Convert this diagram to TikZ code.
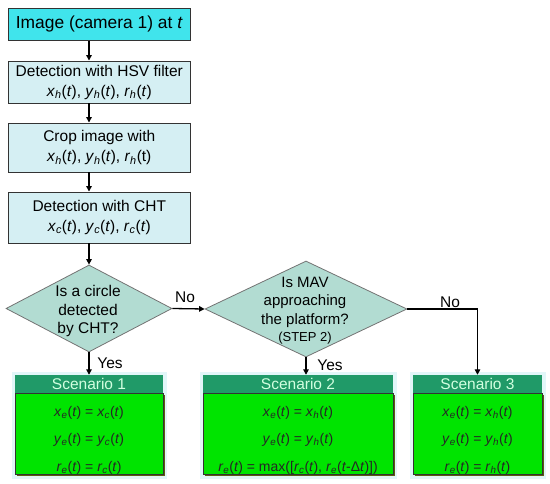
\documentclass[tikz,border=0pt]{standalone}
\usepackage{fontspec}
\setmainfont{Liberation Sans}
\usetikzlibrary{shapes.geometric,arrows.meta,shadows,backgrounds}
\definecolor{cyanA}{HTML}{40E4EC}
\definecolor{cyanB}{HTML}{D5EFF3}
\definecolor{diaC}{HTML}{B2DCD2}
\definecolor{hdrC}{HTML}{209A68}
\definecolor{hdrT}{HTML}{D2FFE0}
\definecolor{bodyC}{HTML}{00E400}
\definecolor{shadC}{HTML}{5E5A10}
\definecolor{haloC}{HTML}{E2F6F8}
\newcommand\myv[2]{\textit{#1}\textsubscript{\textit{#2}}}
\begin{document}
\begin{tikzpicture}[x=1pt,y=-1pt,
 box/.style={draw=black!80, line width=0.9pt, fill=cyanB, minimum width=182pt, inner sep=0pt, align=center, font=\fontsize{15.5}{20}\selectfont},
 dia/.style={diamond, draw=black!55, line width=0.8pt, fill=diaC, inner sep=0pt},
 dtext/.style={align=center, font=\fontsize{15.5}{18.5}\selectfont, inner sep=0pt},
 hdr/.style={fill=hdrC, text=hdrT, inner sep=0pt, font=\fontsize{15.5}{18}\selectfont, minimum height=18pt},
 body/.style={draw=black!80, line width=0.9pt, fill=bodyC, inner sep=0pt, minimum height=81pt, drop shadow={shadow xshift=1.5pt, shadow yshift=-1.5pt, fill=shadC, opacity=1}},
 btext/.style={align=center, font=\fontsize{14}{27.5}\selectfont, inner sep=0pt, text=black!85},
 arr/.style={draw=black, line width=1.3pt, -{Triangle[length=5.5pt,width=5.5pt]}},
 lbl/.style={font=\fontsize{15.5}{18}\selectfont, inner sep=0pt},
]
\useasboundingbox (0,0) rectangle (550,484);

\node[box, fill=cyanA, minimum height=32pt, font=\fontsize{17.4}{20}\selectfont] (b1) at (99.3,24.5) {Image (camera 1) at \textit{t}};
\node[box, minimum height=42pt] (b2) at (99.3,82) {Detection with HSV filter\\ \myv{x}{h}(\textit{t}), \myv{y}{h}(\textit{t}), \myv{r}{h}(\textit{t})};
\node[box, minimum height=49pt] (b3) at (99.3,147.5) {Crop image with\\ \myv{x}{h}(\textit{t}), \myv{y}{h}(\textit{t}), \myv{r}{h}(t)};
\node[box, minimum height=51pt] (b4) at (99.3,217.5) {Detection with CHT\\ \myv{x}{c}(\textit{t}), \myv{y}{c}(\textit{t}), \myv{r}{c}(\textit{t})};

\node[dia, minimum width=166pt, minimum height=87pt] (d1) at (89,308.5) {};
\node[dtext] (d1t) at (88,311) {Is a circle\\detected\\by CHT?};
\node[dia, minimum width=202pt, minimum height=96pt] (d2) at (306,309) {};
\node[dtext, font=\fontsize{15}{18.5}\selectfont] (d2t) at (305,302) {Is MAV\\approaching\\the platform?};
\node[inner sep=0pt, font=\fontsize{13}{15}\selectfont] (d2s) at (305,338) {(STEP 2)};

\node[hdr, minimum width=148pt] (s1h) at (89,384) {Scenario 1};
\node[body, minimum width=148pt, anchor=north] (s1b) at (s1h.south) {};
\node[btext] (s1t) at (89,440) {\myv{x}{e}(\textit{t}) = \myv{x}{c}(\textit{t})\\ \myv{y}{e}(\textit{t}) = \myv{y}{c}(\textit{t})\\ \myv{r}{e}(\textit{t}) = \myv{r}{c}(\textit{t})};

\node[hdr, minimum width=190pt] (s2h) at (298,384) {Scenario 2};
\node[body, minimum width=190pt, anchor=north] (s2b) at (s2h.south) {};
\node[btext] (s2t) at (298,440) {\myv{x}{e}(\textit{t}) = \myv{x}{h}(\textit{t})\\ \myv{y}{e}(\textit{t}) = \myv{y}{h}(\textit{t})\\ \myv{r}{e}(\textit{t}) = max([\myv{r}{c}(\textit{t}), \myv{r}{e}(\textit{t}-Δ\textit{t})])};

\node[hdr, minimum width=129pt] (s3h) at (477.5,384) {Scenario 3};
\node[body, minimum width=129pt, anchor=north] (s3b) at (s3h.south) {};
\node[btext] (s3t) at (477.5,440) {\myv{x}{e}(\textit{t}) = \myv{x}{h}(\textit{t})\\ \myv{y}{e}(\textit{t}) = \myv{y}{h}(\textit{t})\\ \myv{r}{e}(\textit{t}) = \myv{r}{h}(\textit{t})};

\begin{scope}[on background layer]
\fill[haloC] ([xshift=-3pt,yshift=3pt]s1h.north west) rectangle ([xshift=4pt,yshift=-4pt]s1b.south east);
\fill[haloC] ([xshift=-3pt,yshift=3pt]s2h.north west) rectangle ([xshift=4pt,yshift=-4pt]s2b.south east);
\fill[haloC] ([xshift=-3pt,yshift=3pt]s3h.north west) rectangle ([xshift=4pt,yshift=-4pt]s3b.south east);
\end{scope}

\draw[arr] (b1.south -| d1.north) -- (b2.north -| d1.north);
\draw[arr] (b2.south -| d1.north) -- (b3.north -| d1.north);
\draw[arr] (b3.south -| d1.north) -- (b4.north -| d1.north);
\draw[arr] (b4.south -| d1.north) -- (d1.north);
\draw[arr] (d1.south) -- (d1.south |- s1h.north);
\draw[arr] (d1.east) -- (d2.west);
\draw[arr] (d2.south) -- (d2.south |- s2h.north);
\draw[arr] (d2.east) -| (s3h.north);

\node[lbl] (no1) at (185,297) {No};
\node[lbl] (yes1) at (110,363) {Yes};
\node[lbl] (yes2) at (330,365) {Yes};
\node[lbl] (no2) at (450,302) {No};
\end{tikzpicture}
\end{document}
